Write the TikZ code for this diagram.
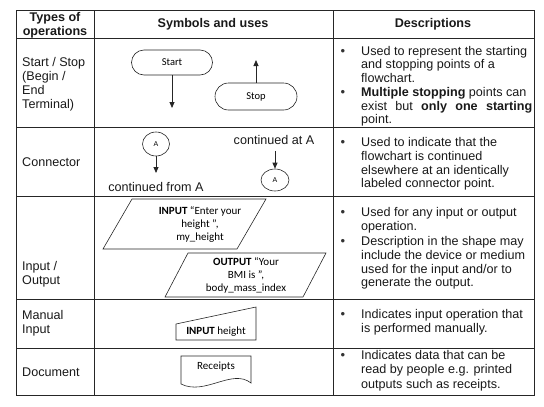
\documentclass[tikz,border=0pt]{standalone}
\usepackage{fontspec}
\setmainfont{Liberation Sans}
\newfontfamily\shapefont{Carlito}
\usetikzlibrary{arrows.meta,shapes.geometric}
\begin{document}
\begin{tikzpicture}[x=1pt,y=-1pt,
  gridline/.style={line width=0.8pt, draw=black!85},
  lab/.style={font=\fontsize{12.6}{14}\selectfont, inner sep=0, anchor=base west, text=black!90},
  hdr/.style={font=\fontsize{12.6}{14.5}\selectfont\bfseries, inner sep=0, align=center, text=black!90},
  bul/.style={font=\fontsize{13}{14}\selectfont, inner sep=0, anchor=base, text=black!80},
  pill/.style={draw=black!85, line width=0.6pt, rounded corners=12.5pt, minimum width=81pt, minimum height=25pt, inner sep=0, font=\shapefont\fontsize{10.5}{12}\selectfont},
  conn/.style={draw=black!85, line width=0.6pt, ellipse, minimum width=27pt, minimum height=24pt, inner sep=0, font=\fontsize{7}{8}\selectfont},
  arr/.style={-{Triangle[length=6pt,width=5pt]}, line width=0.8pt, draw=black!85},
  shp/.style={draw=black!85, line width=0.6pt},
  stxt/.style={font=\shapefont\fontsize{11}{13}\selectfont, align=center, inner sep=0}]
\useasboundingbox (0,0) rectangle (544,407);
% table grid
\draw[gridline] (16,10) rectangle (534,395);
\draw[gridline] (94,10) -- (94,395);
\draw[gridline] (333,10) -- (333,395);
\foreach \yy in {38,127,196,299,348} \draw[gridline] (16,\yy) -- (534,\yy);
% header
\node[hdr] (h1) at (55,25) {Types of\\operations};
\node[hdr] (h2) at (213,24.5) {Symbols and uses};
\node[hdr] (h3) at (433,24.5) {Descriptions};
% column 1
\foreach \t [count=\i] in {{Start / Stop},{(Begin /},{End},{Terminal)}}
  \node[lab] (ta\i) at (22,{66.5+14*(\i-1)}) {\t};
\node[lab] (tb1) at (22,166.5) {Connector};
\foreach \t [count=\i] in {{Input /},{Output}}
  \node[lab] (tc\i) at (22,{270.5+14*(\i-1)}) {\t};
\foreach \t [count=\i] in {{Manual},{Input}}
  \node[lab] (td\i) at (22,{319.5+14*(\i-1)}) {\t};
\node[lab] (te1) at (22,376.5) {Document};
% column 3: descriptions
\node[bul] (b1) at (343,55) {\textbullet};
\foreach \t [count=\i] in {Used to represent the starting,and stopping points of a,flowchart.}
  \node[lab] (da\i) at (361,{55+13.6*(\i-1)}) {\t};
\node[bul] (b2) at (343,96.5) {\textbullet};
\foreach \t [count=\i] in {{\textbf{Multiple stopping} points can},{\makebox[171pt][s]{exist but \textbf{only one starting}}},point.}
  \node[lab] (db\i) at (361,{96.5+13.6*(\i-1)}) {\t};
\node[bul] (b3) at (343,146.5) {\textbullet};
\foreach \t [count=\i] in {Used to indicate that the,flowchart is continued,elsewhere at an identically,labeled connector point.}
  \node[lab] (dc\i) at (361,{146.5+13.8*(\i-1)}) {\t};
\node[bul] (b4) at (343,216.5) {\textbullet};
\foreach \t [count=\i] in {Used for any input or output,operation.}
  \node[lab] (dd\i) at (361,{216.5+13.8*(\i-1)}) {\t};
\node[bul] (b5) at (343,245.5) {\textbullet};
\foreach \t [count=\i] in {Description in the shape may,include the device or medium,used for the input and/or to,generate the output.}
  \node[lab] (de\i) at (361,{245.5+13.8*(\i-1)}) {\t};
\node[bul] (b6) at (343,318.5) {\textbullet};
\foreach \t [count=\i] in {Indicates input operation that,is performed manually.}
  \node[lab] (df\i) at (361,{318.5+14*(\i-1)}) {\t};
\node[bul] (b7) at (343,359.5) {\textbullet};
\foreach \t [count=\i] in {Indicates data that can be,read by people e.g. printed,outputs such as receipts.}
  \node[lab] (dg\i) at (361,{359.5+14.3*(\i-1)}) {\t};
% start / stop
\node[pill] (start) at (172,62.5) {Start};
\coordinate (startend) at (172,108);
\draw[arr] (start.south) -- (startend);
\node[pill, minimum width=82pt, minimum height=27pt, rounded corners=13.5pt] (stop) at (256,96.5) {Stop};
\coordinate (stopend) at (256,60);
\draw[arr] (stop.north) -- (stopend);
% connectors
\node[conn] (ca) at (156,144) {A};
\coordinate (caend) at (156,173);
\draw[arr] (ca.south) -- (caend);
\node[lab, anchor=center] (cfrom) at (156,187) {continued from A};
\node[lab, anchor=center] (cat) at (274,140) {continued at A};
\node[conn, minimum width=28pt, minimum height=22pt] (cb) at (275,180) {A};
\draw[arr] ([yshift=-6pt]cat.south -| cb.north) -- (cb.north);
% input / output
\draw[shp] (132,199) -- (266,199) -- (237,249) -- (103,249) -- cycle;
\node[stxt] (io1) at (200,224) {\textbf{INPUT} “Enter your\\height ”,\\my\_height};
\draw[shp] (188,253) -- (326,253) -- (303,297) -- (165,297) -- cycle;
\node[stxt] (io2) at (246,275) {\textbf{OUTPUT} “Your\\BMI is ”,\\body\_mass\_index};
% manual input
\draw[shp] (176,324) -- (256,307) -- (256,340) -- (176,340) -- cycle;
\node[stxt] (mi) at (216,332) {\textbf{INPUT} height};
% document
\draw[shp] (181,356) -- (251,356) -- (251,383) .. controls (232,368) and (205,396) .. (181,384) -- cycle;
\node[stxt] (doc) at (216,367) {Receipts};
\end{tikzpicture}
\end{document}
